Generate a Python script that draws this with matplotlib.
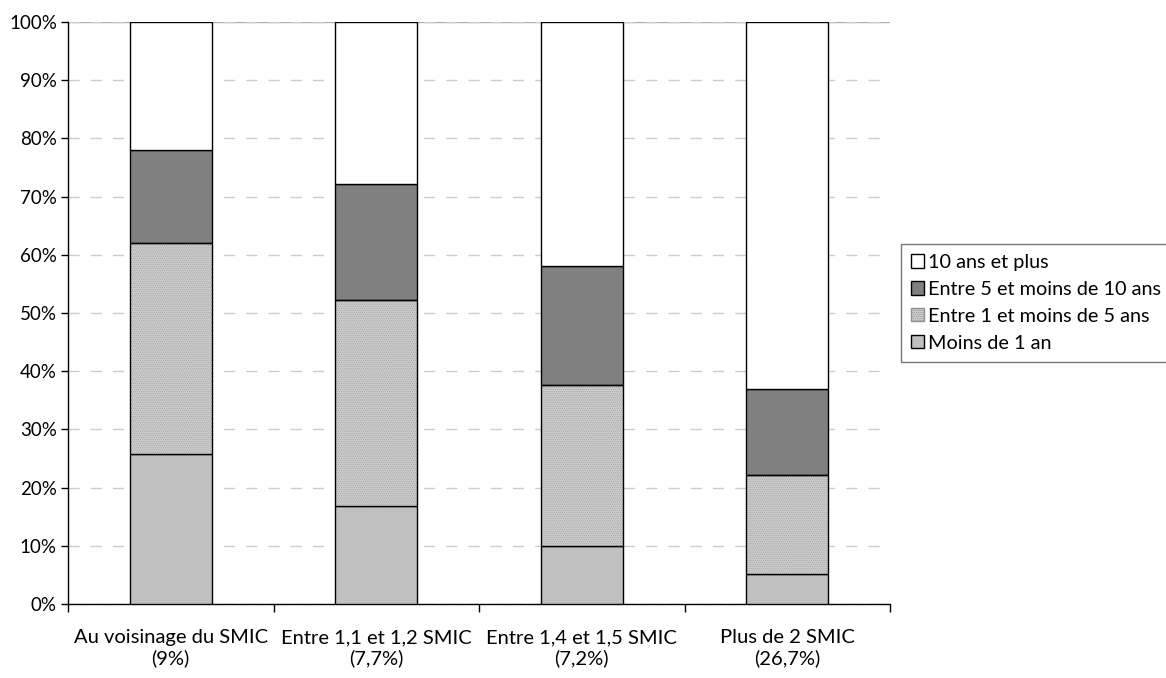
import matplotlib
matplotlib.use('Agg')
import matplotlib.pyplot as plt
import numpy as np
from matplotlib.patches import Patch

plt.rcParams['font.family'] = ['Lato', 'DejaVu Sans']
plt.rcParams['hatch.linewidth'] = 0.5

categories = ['Au voisinage du SMIC\n(9%)', 'Entre 1,1 et 1,2 SMIC\n(7,7%)',
              'Entre 1,4 et 1,5 SMIC\n(7,2%)', 'Plus de 2 SMIC\n(26,7%)']
moins_1an = [25.7, 16.9, 9.9, 5.2]
de_1_a_5 = [36.3, 35.3, 27.7, 17.0]
de_5_a_10 = [16.0, 20.0, 20.4, 14.8]
dix_plus = [22.0, 27.8, 42.0, 63.0]
series_names = ['Moins de 1 an', 'Entre 1 et moins de 5 ans',
                'Entre 5 et moins de 10 ans', '10 ans et plus']

fig = plt.figure(figsize=(11.66, 6.78), dpi=100)
ax = fig.add_axes([68/1166, 1 - 604/678, 822/1166, 582/678])

x = np.arange(len(categories))
w = 0.4
bottom = np.zeros(len(categories))

ax.bar(x, moins_1an, w, bottom=bottom, color='#c0c0c0', edgecolor='black', lw=1, zorder=3)
bottom += moins_1an
# fine checker fill: hatch in gray, then black outline on top
ax.bar(x, de_1_a_5, w, bottom=bottom, color='#cdcdcd', edgecolor='#a0a0a0', hatch='........', lw=0, zorder=3)
ax.bar(x, de_1_a_5, w, bottom=bottom, fill=False, edgecolor='black', lw=1, zorder=4)
bottom += de_1_a_5
ax.bar(x, de_5_a_10, w, bottom=bottom, color='#808080', edgecolor='black', lw=1, zorder=3)
bottom += de_5_a_10
ax.bar(x, dix_plus, w, bottom=bottom, color='white', edgecolor='black', lw=1, zorder=3)

ax.set_xlim(-0.5, len(categories) - 0.5)
ax.set_ylim(0, 100)
ax.set_yticks(np.arange(0, 101, 10))
ax.set_yticklabels([f'{v}%' for v in range(0, 101, 10)])
ax.set_xticks(x)
ax.set_xticklabels(categories, linespacing=1.2)
ax.set_xticks(np.arange(-0.5, len(categories)), minor=True)
ax.tick_params(axis='x', which='major', length=0, pad=18, labelsize=14.5)
ax.tick_params(axis='x', which='minor', length=6, direction='out', width=1)
ax.tick_params(axis='y', length=5, width=1, labelsize=13.5, pad=3)

ax.grid(axis='y', ls=(0, (8, 8)), color='#cccccc', lw=1, zorder=0)
for s in ['top', 'right']:
    ax.spines[s].set_visible(False)
for s in ['left', 'bottom']:
    ax.spines[s].set_linewidth(1)
ax.axhline(100, color='#b0b0b0', lw=1, zorder=1)

handles = [Patch(facecolor='white', edgecolor='black'),
           Patch(facecolor='#808080', edgecolor='black'),
           Patch(facecolor='#cdcdcd', edgecolor='#909090', hatch='........'),
           Patch(facecolor='#c0c0c0', edgecolor='black')]
leg = fig.legend(handles, series_names[::-1], loc='upper left',
                 bbox_to_anchor=(901/1166, 1 - 244/678), fontsize=14.3,
                 frameon=True, fancybox=False, edgecolor='#555555',
                 handlelength=0.65, handleheight=0.65, handletextpad=0.2,
                 labelspacing=0.5, borderpad=0.5, borderaxespad=0)
leg.get_frame().set_linewidth(1)

fig.savefig('out.png', dpi=100)
